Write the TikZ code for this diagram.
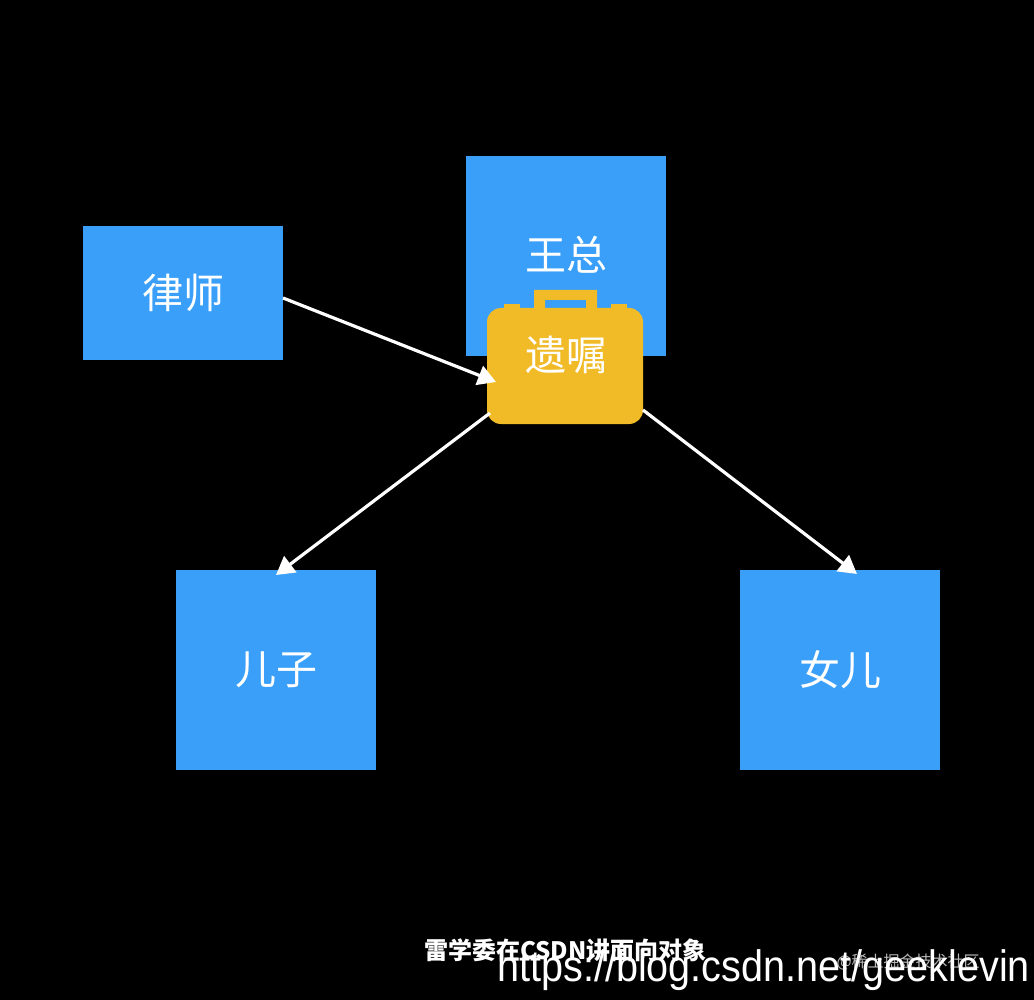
\documentclass[tikz,border=0pt]{standalone}
\usepackage{fontspec}
\usepackage{graphicx}
\setmainfont{Liberation Sans}
\newfontfamily\cjk{Noto Sans CJK SC}
\usetikzlibrary{arrows.meta}
\definecolor{bx}{HTML}{3A9FF9}
\definecolor{yl}{HTML}{F1BB27}
\tikzset{x=1pt,y=-1pt,
 box/.style={fill=bx,draw=none,inner sep=0pt},
 lbl/.style={text=white,font=\cjk\fontsize{41}{43}\selectfont},
 arr/.style={draw=white,line width=3.2pt,-{Triangle[length=18pt,width=20pt]}}}
\begin{document}
\begin{tikzpicture}
\fill[black] (0,0) rectangle (1034,1000);
\useasboundingbox (0,0) rectangle (1034,1000);
\fill[bx] (83,226) rectangle (283,360);
\node[lbl] (ls) at (183,293) {律师};
\fill[bx] (466,156) rectangle (666,356);
\node[lbl] (wz) at (566,255) {王总};
\fill[bx] (176,570) rectangle (376,770);
\node[lbl] (ez) at (276,670) {儿子};
\fill[bx] (740,570) rectangle (940,770);
\node[lbl] (ne) at (840,670) {女儿};
% briefcase
\fill[yl,even odd rule] (534,290) rectangle (597,310) (545,300) rectangle (586,310);
\fill[yl] (504,304) rectangle (520,312);
\fill[yl] (611,304) rectangle (627,312);
\fill[yl,rounded corners=14pt] (487,308) rectangle (643,424);
\node[lbl] (yz) at (566,355) {遗嘱};
\coordinate (a1) at (283,298); \coordinate (a2) at (496,382);
\coordinate (b1) at (490,413); \coordinate (b2) at (276,575);
\coordinate (c1) at (643,410); \coordinate (c2) at (857,574);
\draw[arr] (a1) -- (a2);
\draw[arr] (b1) -- (b2);
\draw[arr] (c1) -- (c2);
\node[text=gray!55,font=\cjk\fontsize{16}{18}\selectfont,anchor=west] (jj) at (833,962) {@稀土掘金技术社区};
\node[text=white,font=\cjk\bfseries\fontsize{24}{26}\selectfont,anchor=west,inner sep=0pt] (wm) at (424,950) {雷学委在CSDN讲面向对象};
\node[text=white,font=\fontsize{44}{46}\selectfont,anchor=west,inner sep=0pt] (url) at (497,970) {\scalebox{0.9}[1]{https://blog.csdn.net/geeklevin}};
\end{tikzpicture}
\end{document}
